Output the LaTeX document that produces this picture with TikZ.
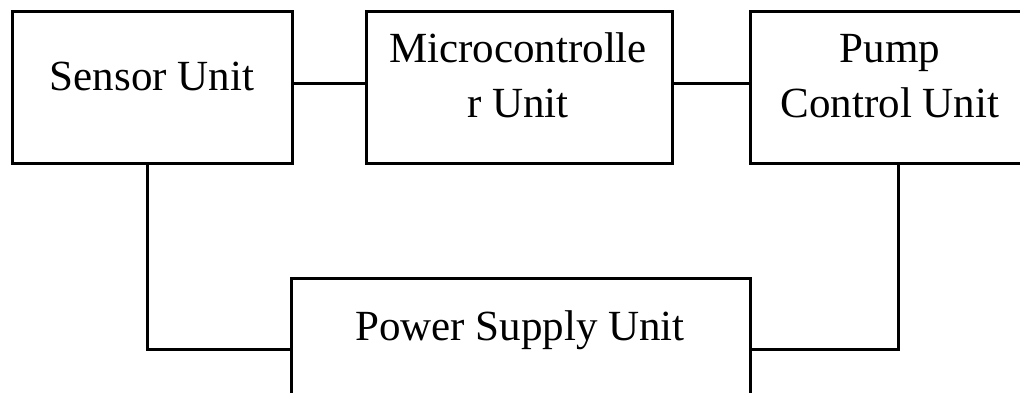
\documentclass[tikz,border=0pt]{standalone}
\usepackage{fontspec}
\setmainfont{Liberation Serif}
\begin{document}
\begin{tikzpicture}[x=1pt,y=1pt,
  box/.style={draw=black, line width=3pt, rectangle, minimum height=152pt, inner sep=0pt},
  lbl/.style={anchor=base, inner sep=0pt, font=\fontsize{43}{55}\selectfont},
  wire/.style={draw=black, line width=3pt}]
\useasboundingbox (0,0) rectangle (1020,-392);
\clip (0,0) rectangle (1020,-392);
\node[box, minimum width=280pt] (sensor) at (152,-87) {};
\node[box, minimum width=306pt] (micro) at (519,-87) {};
\node[box, minimum width=280pt] (pump) at (890,-87) {};
\node[box, minimum width=459pt] (power) at (520.5,-354) {};
\node[lbl] (tsensor) at (152,-90) {Sensor Unit};
\node[lbl] (tmicro1) at (518,-62) {Microcontrolle};
\node[lbl] (tmicro2) at (518,-117) {r Unit};
\node[lbl] (tpump1) at (890,-62) {Pump};
\node[lbl] (tpump2) at (890,-117) {Control Unit};
\node[lbl] (tpower) at (520,-340) {Power Supply Unit};
\draw[wire] ([yshift=4pt]sensor.east) -- ([yshift=4pt]micro.west);
\draw[wire] ([yshift=4pt]micro.east) -- ([yshift=4pt]pump.west);
\draw[wire] ([xshift=-5pt]sensor.south) |- ([yshift=5pt]power.west);
\draw[wire] ([xshift=8pt]pump.south) |- ([yshift=5pt]power.east);
\end{tikzpicture}
\end{document}
